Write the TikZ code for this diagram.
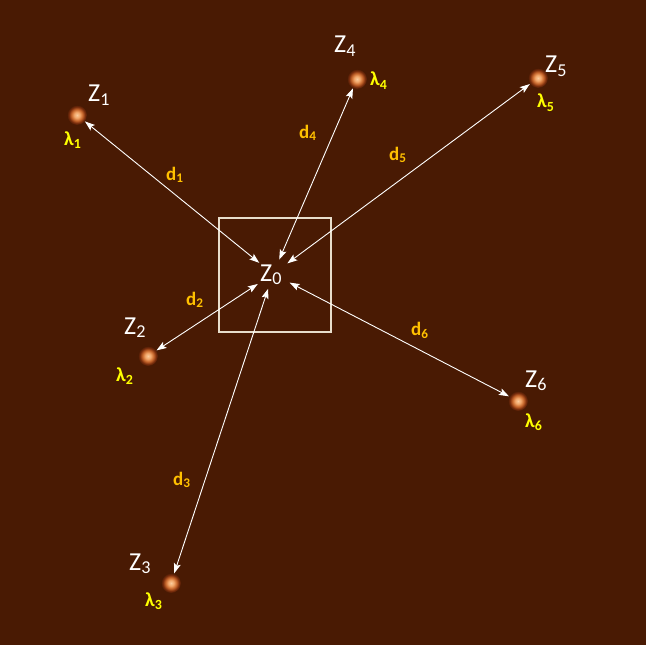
\documentclass[tikz,border=0pt]{standalone}
\usepackage{fontspec}
\setmainfont{Carlito}
\usetikzlibrary{arrows.meta,shapes.geometric}
\definecolor{bg}{RGB}{73,26,3}
\definecolor{dcol}{RGB}{255,192,0}
\definecolor{lcol}{RGB}{255,255,0}
\definecolor{boxcol}{RGB}{232,222,204}
\pgfdeclareradialshading{spotshade}{\pgfpoint{0bp}{0bp}}{%
 rgb(0bp)=(0.98,0.80,0.62);
 rgb(7bp)=(0.95,0.66,0.42);
 rgb(14bp)=(0.78,0.40,0.17);
 rgb(20bp)=(0.48,0.18,0.05);
 rgb(25bp)=(0.286,0.102,0.012);
 rgb(50bp)=(0.286,0.102,0.012)}
\begin{document}
\begin{tikzpicture}[x=1bp,y=-1bp,
 spotnode/.style={circle,minimum size=20bp,inner sep=0pt,shade,shading=spotshade},
 zlab/.style={text=white,font=\fontsize{26}{28}\selectfont,anchor=base west,inner sep=0pt},
 dlab/.style={text=dcol,font=\bfseries\fontsize{19}{21}\selectfont,anchor=base west,inner sep=0pt},
 llab/.style={text=lcol,font=\bfseries\fontsize{20}{22}\selectfont,anchor=base west,inner sep=0pt},
 link/.style={white,line width=0.9bp,{Stealth[length=10bp,width=7bp,inset=2bp]}-{Stealth[length=10bp,width=7bp,inset=2bp]}},
 centre/.style={ellipse,minimum width=40bp,minimum height=30bp,inner sep=0pt},
 frame/.style={draw=boxcol,line width=2.5bp,minimum width=112bp,minimum height=114bp,inner sep=0pt}
]
\useasboundingbox (0,0) rectangle (647,651);
\fill[white] (0,0) rectangle (647,651);
\fill[bg] (0,0) rectangle (646,645);
% frame
\node[frame] (box) at (275,275) {};
% spots
\node[spotnode] (z1) at (77,115) {};
\node[spotnode] (z2) at (148,356) {};
\node[spotnode] (z3) at (171,583) {};
\node[spotnode] (z4) at (357,79) {};
\node[spotnode] (z5) at (538,78) {};
\node[spotnode] (z6) at (518,401) {};
% centre
\node[centre] (z0) at (273,274) {};
\node[zlab] (t0) at (260,281) {Z\textsubscript{0}};
% connectors
\draw[link] (z0) -- (z1);
\draw[link] (z0) -- (z2);
\draw[link] (z0) -- (z3);
\draw[link] (z0) -- (z4);
\draw[link] (z0) -- (z5);
\draw[link] (z0) -- (z6);
% Z labels
\node[zlab] (t1) at (88,102) {Z\textsubscript{1}};
\node[zlab] (t2) at (124,334) {Z\textsubscript{2}};
\node[zlab] (t3) at (129,570) {Z\textsubscript{3}};
\node[zlab] (t4) at (334,53) {Z\textsubscript{4}};
\node[zlab] (t5) at (545,73) {Z\textsubscript{5}};
\node[zlab] (t6) at (525,387) {Z\textsubscript{6}};
% lambda labels
\node[llab] (l1) at (64,145) {λ\textsubscript{1}};
\node[llab] (l2) at (116,381) {λ\textsubscript{2}};
\node[llab] (l3) at (145,606) {λ\textsubscript{3}};
\node[llab] (l4) at (370,86) {λ\textsubscript{4}};
\node[llab] (l5) at (537,108) {λ\textsubscript{5}};
\node[llab] (l6) at (525,427) {λ\textsubscript{6}};
% distance labels
\node[dlab] (d1) at (166,180) {d\textsubscript{1}};
\node[dlab] (d2) at (186,305) {d\textsubscript{2}};
\node[dlab] (d3) at (173,485) {d\textsubscript{3}};
\node[dlab] (d4) at (299,138) {d\textsubscript{4}};
\node[dlab] (d5) at (389,160) {d\textsubscript{5}};
\node[dlab] (d6) at (411,335) {d\textsubscript{6}};
\end{tikzpicture}
\end{document}
